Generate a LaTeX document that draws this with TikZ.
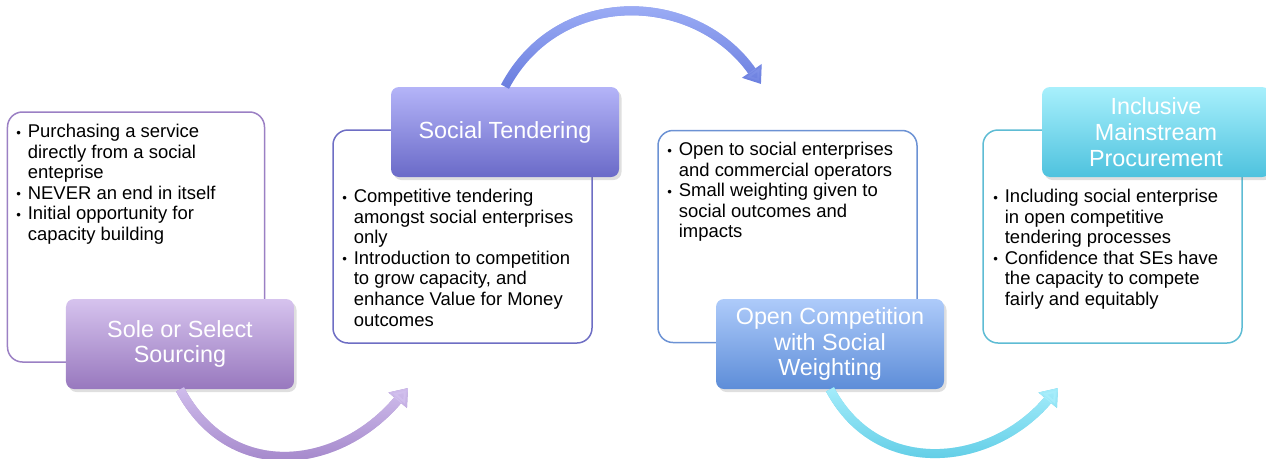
\documentclass[tikz,border=0pt]{standalone}
\usepackage{fontspec}
\setmainfont{Liberation Sans}
\usetikzlibrary{arrows.meta,shadows,fadings}

\definecolor{solebox}{RGB}{155,128,196}
\definecolor{soletop}{RGB}{214,195,238}
\definecolor{solebot}{RGB}{152,120,190}
\definecolor{tendbox}{RGB}{110,110,196}
\definecolor{tendtop}{RGB}{180,180,248}
\definecolor{tendbot}{RGB}{106,106,200}
\definecolor{openbox}{RGB}{108,146,212}
\definecolor{opentop}{RGB}{174,203,250}
\definecolor{openbot}{RGB}{93,141,216}
\definecolor{inclbox}{RGB}{94,188,212}
\definecolor{incltop}{RGB}{168,240,252}
\definecolor{inclbot}{RGB}{78,194,222}
\definecolor{solelight}{RGB}{210,192,238}
\definecolor{soledark}{RGB}{150,118,192}
\definecolor{tendlight}{RGB}{170,186,252}
\definecolor{tenddark}{RGB}{104,124,222}
\definecolor{incllight}{RGB}{168,238,252}
\definecolor{incldark}{RGB}{76,196,224}

\newcommand{\bodyfont}{\fontsize{10.5}{11.7}\selectfont}
\newcommand{\labelfont}{\fontsize{13.3}{14.6}\selectfont}
\newcommand{\bul}{\makebox[2.3mm][l]{\raisebox{0.4pt}{\fontsize{7.5}{7.5}\selectfont •}}}
\newcommand{\ind}{\hspace*{2.3mm}}

\tikzfading[name=fadedown, top color=transparent!0, bottom color=transparent!100]

\tikzset{
  stagebox/.style={draw, fill=white, rounded corners=3mm, line width=0.3mm, inner sep=0pt},
  stagelabel/.style={rounded corners=1.6mm, minimum width=45.6mm, minimum height=18mm,
    inner sep=0pt, align=center, text=white, font=\labelfont,
    drop shadow={opacity=0.25, shadow xshift=0.5mm, shadow yshift=-0.6mm}},
  bodytext/.style={font=\bodyfont, align=left, inner sep=0pt, anchor=north west},
  stagearc/.style={line width=1.8mm, -{Triangle[width=4.6mm,length=3.2mm]}}
}

% start, end, out, in, looseness, colour
\NewDocumentCommand{\stagearrow}{mmmmmm}{%
\draw[stagearc, draw=#6dark] (#1) to[out=#3, in=#4, looseness=#5] (#2);
\draw[stagearc, draw=#6light, path fading=fadedown] (#1) to[out=#3, in=#4, looseness=#5] (#2);
}

\begin{document}
\begin{tikzpicture}[x=0.2mm, y=0.2mm]
  \useasboundingbox (0,0) rectangle (1266,-458);

  % boxes
  \node[stagebox, draw=solebox, minimum width=51.4mm, minimum height=50mm] (sole) at (136,-237) {};
  \node[stagebox, draw=tendbox, minimum width=51.8mm, minimum height=42.6mm] (tend) at (462.5,-236.5) {};
  \node[stagebox, draw=openbox, minimum width=51.8mm, minimum height=42.4mm] (open) at (787.5,-236.5) {};
  \node[stagebox, draw=inclbox, minimum width=51.8mm, minimum height=42.6mm] (incl) at (1112.5,-236.5) {};

  % bullet texts
  \node[bodytext] (soletext) at (16,-124) {\bul Purchasing a service\\ \ind directly from a social\\ \ind enteprise\\
    \bul NEVER an end in itself\\ \bul Initial opportunity for\\ \ind capacity building};
  \node[bodytext] (tendtext) at (342,-189) {\bul Competitive tendering\\ \ind amongst social enterprises\\ \ind only\\
    \bul Introduction to competition\\ \ind to grow capacity, and\\ \ind enhance Value for Money\\ \ind outcomes};
  \node[bodytext] (opentext) at (667,-142) {\bul Open to social enterprises\\ \ind and commercial operators\\
    \bul Small weighting given to\\ \ind social outcomes and\\ \ind impacts};
  \node[bodytext] (incltext) at (993,-189) {\bul Including social enterprise\\ \ind in open competitive\\ \ind tendering processes\\
    \bul Confidence that SEs have\\ \ind the capacity to compete\\ \ind fairly and equitably};

  % stage labels
  \node[stagelabel, top color=soletop, bottom color=solebot] (solelab) at (180,-344) {Sole or Select\\Sourcing};
  \node[stagelabel, top color=tendtop, bottom color=tendbot] (tendlab) at (505,-132) {Social Tendering};
  \node[stagelabel, top color=opentop, bottom color=openbot] (openlab) at (830,-344) {Open Competition\\with Social\\Weighting};
  \node[stagelabel, top color=incltop, bottom color=inclbot] (incllab) at (1156,-132) {Inclusive\\Mainstream\\Procurement};

  % arrows between stages
  \coordinate (soleend) at (408,-388);
  \coordinate (tendend) at (761,-84);
  \coordinate (openend) at (1058,-388);
  \stagearrow{solelab.south}{soleend}{-62}{230}{1.2}{sole}
  \stagearrow{tendlab.north}{tendend}{62}{125}{1.14}{tend}
  \stagearrow{openlab.south}{openend}{-62}{230}{1.15}{incl}
\end{tikzpicture}
\end{document}
